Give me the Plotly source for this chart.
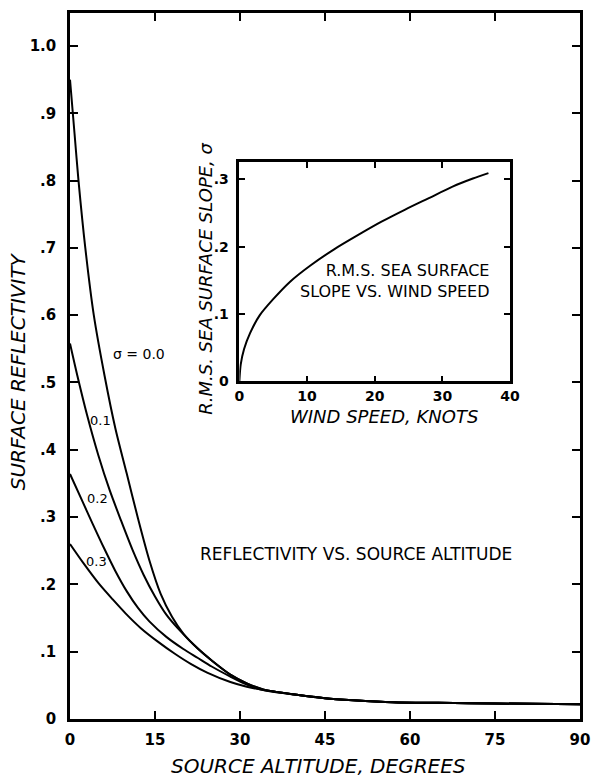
import plotly.graph_objects as go

# ---- main chart data: source altitude (deg) vs surface reflectivity ----
alt_s00 = [0, 0.8, 1.5, 2.7, 4.2, 6.1, 8.0, 10.0, 12.0, 14.0, 16.0, 18.0, 20.0, 22.5, 25.0, 28.3, 31.2, 34.1, 40.0, 45.0, 50.0, 57.0, 65.0, 75.0, 90.0]
ref_s00 = [0.95, 0.87, 0.80, 0.70, 0.60, 0.51, 0.432, 0.365, 0.298, 0.236, 0.186, 0.152, 0.127, 0.105, 0.087, 0.066, 0.053, 0.044, 0.036, 0.031, 0.028, 0.025, 0.024, 0.023, 0.022]

alt_s01 = [0, 1.3, 3.0, 5.0, 7.0, 9.0, 11.0, 13.0, 15.0, 17.0, 19.0, 22.5, 25.0, 28.3, 31.2, 34.1, 40.0, 45.0, 50.0, 57.0, 65.0, 75.0, 90.0]
ref_s01 = [0.558, 0.51, 0.452, 0.392, 0.34, 0.295, 0.252, 0.214, 0.182, 0.155, 0.135, 0.105, 0.087, 0.066, 0.053, 0.044, 0.036, 0.031, 0.028, 0.025, 0.024, 0.023, 0.022]

alt_s02 = [0, 2.0, 4.0, 6.0, 8.0, 10.0, 12.0, 14.0, 17.0, 20.0, 22.5, 25.0, 28.3, 31.2, 34.1, 40.0, 45.0, 50.0, 57.0, 65.0, 75.0, 90.0]
ref_s02 = [0.364, 0.327, 0.29, 0.254, 0.22, 0.19, 0.165, 0.145, 0.122, 0.104, 0.091, 0.078, 0.063, 0.051, 0.043, 0.036, 0.031, 0.028, 0.025, 0.024, 0.023, 0.022]

alt_s03 = [0, 2.5, 5.1, 7.5, 9.8, 12.5, 15.5, 18.5, 21.3, 24.2, 28.3, 31.2, 34.1, 40.0, 45.0, 50.0, 57.0, 65.0, 75.0, 90.0]
ref_s03 = [0.26, 0.23, 0.201, 0.178, 0.157, 0.135, 0.115, 0.097, 0.082, 0.069, 0.055, 0.048, 0.043, 0.036, 0.031, 0.028, 0.025, 0.024, 0.023, 0.022]

# ---- inset data: wind speed (knots) vs rms sea surface slope ----
wind_kn = [0, 0.2, 0.7, 1.6, 3.0, 5.0, 7.5, 10.5, 14.0, 17.5, 21.0, 24.5, 28.0, 31.5, 34.5, 36.8]
slope_rms = [0, 0.025, 0.048, 0.072, 0.098, 0.122, 0.148, 0.172, 0.196, 0.217, 0.237, 0.255, 0.272, 0.289, 0.301, 0.309]

main_xticks = [0, 15, 30, 45, 60, 75, 90]
main_yticks = [0, 0.1, 0.2, 0.3, 0.4, 0.5, 0.6, 0.7, 0.8, 0.9, 1.0]
main_yticktext = ["0", ".1", ".2", ".3", ".4", ".5", ".6", ".7", ".8", ".9", "1.0"]
inset_xticks = [0, 10, 20, 30, 40]
inset_yticks = [0, 0.1, 0.2, 0.3]
inset_yticktext = ["0", ".1", ".2", ".3"]

W, H = 600, 781
L, R, T, B = 70, 12, 10, 62
PW, PH = W - L - R, H - T - B


def px(x):
    return (x - L) / PW


def py(y):
    return (H - B - y) / PH


FONT = "DejaVu Sans"

fig = go.Figure()
for xs, ys in [(alt_s00, ref_s00), (alt_s01, ref_s01), (alt_s02, ref_s02), (alt_s03, ref_s03)]:
    fig.add_trace(go.Scatter(x=xs, y=ys, mode="lines",
                             line=dict(color="black", width=2, shape="spline", smoothing=0.8),
                             xaxis="x", yaxis="y", showlegend=False, hoverinfo="skip"))
fig.add_trace(go.Scatter(x=wind_kn, y=slope_rms, mode="lines",
                         line=dict(color="black", width=2, shape="spline", smoothing=0.8),
                         xaxis="x2", yaxis="y2", showlegend=False, hoverinfo="skip"))

axcommon = dict(showgrid=False, zeroline=False, showline=True, linecolor="black", linewidth=2.5,
                mirror="ticks", ticks="inside", tickcolor="black", tickwidth=2)

fig.update_layout(
    width=W, height=H, margin=dict(l=L, r=R, t=T, b=B),
    paper_bgcolor="white", plot_bgcolor="white",
    font=dict(family=FONT, color="black"),
    xaxis=dict(range=[0, 90], tickvals=main_xticks, domain=[0, 1], ticklen=8,
               tickfont=dict(size=15, family=FONT, weight="bold"), ticklabelstandoff=5, **axcommon),
    yaxis=dict(range=[0, 1.049], tickvals=main_yticks, ticktext=main_yticktext, domain=[0, 1], ticklen=8,
               tickfont=dict(size=15, family=FONT, weight="bold"), ticklabelstandoff=8, **axcommon),
    xaxis2=dict(range=[0, 40], tickvals=inset_xticks, domain=[px(242), px(517)], anchor="y2", ticklen=6,
                tickfont=dict(size=14, family=FONT, weight="bold"), **axcommon),
    yaxis2=dict(range=[0, 0.325], tickvals=inset_yticks, ticktext=inset_yticktext,
                domain=[py(380), py(160)], anchor="x2", ticklen=6,
                tickfont=dict(size=14, family=FONT, weight="bold"), ticklabelstandoff=5, **axcommon),
)

ann = []


def add(text, x, y, size, angle=0, xanchor="center", align="center"):
    ann.append(dict(text=text, x=px(x), y=py(y), xref="paper", yref="paper", showarrow=False,
                    font=dict(size=size, family=FONT, color="black"), textangle=angle,
                    xanchor=xanchor, yanchor="middle", align=align))


add("<i>SOURCE ALTITUDE, DEGREES</i>", 322, 766, 20)
add("<i>SURFACE REFLECTIVITY</i>", 18, 370, 20, angle=-90)
add("<i>R.M.S. SEA SURFACE SLOPE, σ</i>", 208, 277, 18, angle=-90)
add("<i>WIND SPEED, KNOTS</i>", 389, 415, 18)
add("R.M.S. SEA SURFACE<br>SLOPE VS. WIND SPEED", 498, 279, 16, xanchor="right", align="right")
add("REFLECTIVITY VS. SOURCE ALTITUDE", 360, 553, 17)
add("σ = 0.0", 140, 352, 14)
add("0.1", 101, 419, 13)
add("0.2", 98, 498, 13)
add("0.3", 97, 561, 13)
fig.update_layout(annotations=ann)

fig.write_html("out.html")
